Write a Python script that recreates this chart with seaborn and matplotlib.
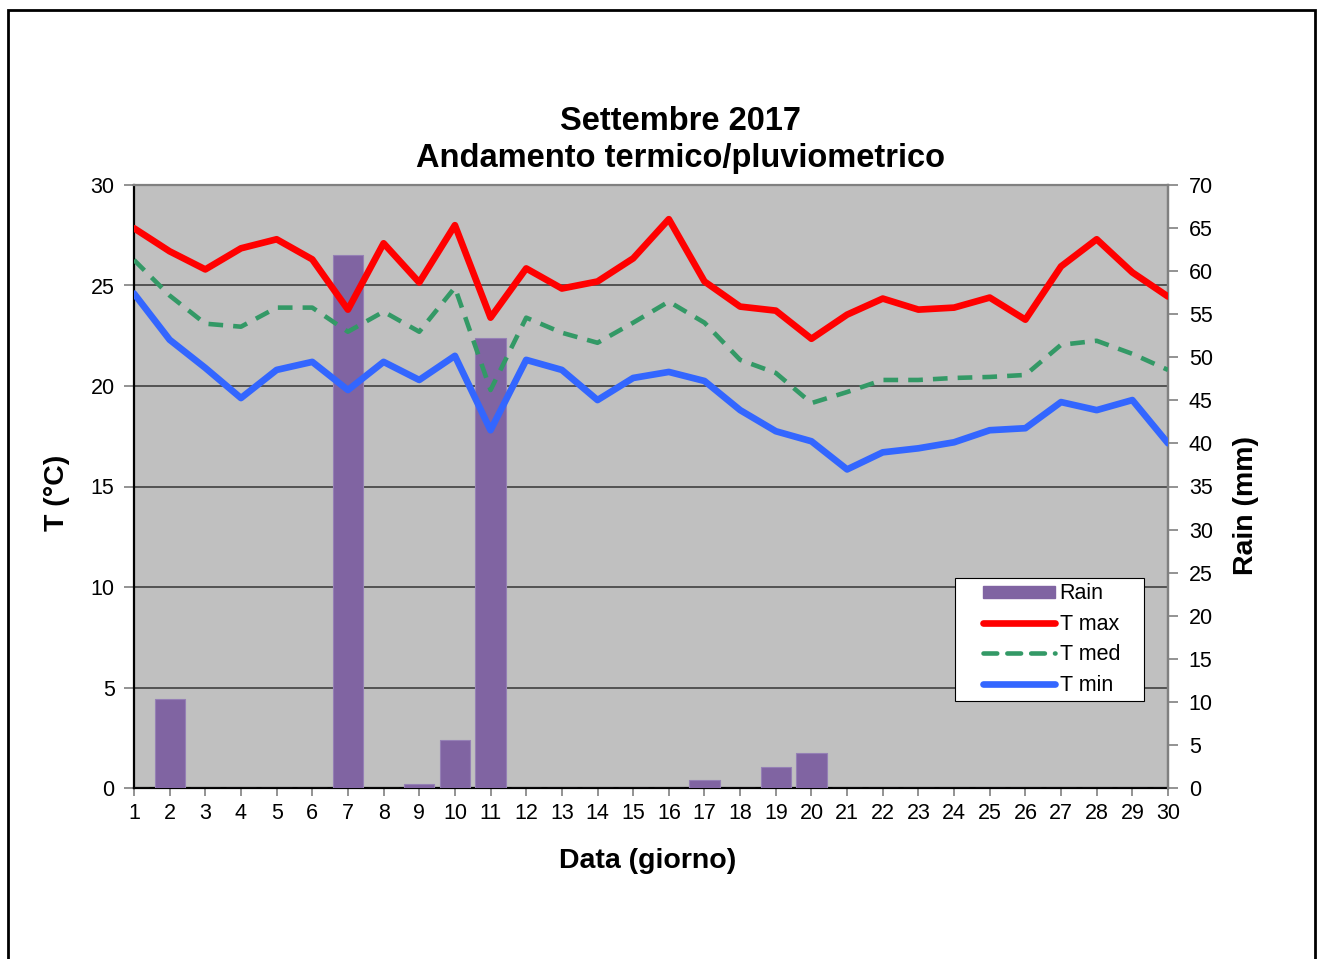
import matplotlib
matplotlib.use("Agg")
import matplotlib.pyplot as plt
import seaborn as sns
from matplotlib.patches import Rectangle, Patch
from matplotlib.lines import Line2D
from matplotlib.legend_handler import HandlerLine2D, HandlerPatch

# ---- data ----
days = list(range(1, 31))
t_max = [27.85, 26.7, 25.8, 26.85, 27.3, 26.3, 23.8, 27.1, 25.15, 28.0,
         23.4, 25.85, 24.85, 25.2, 26.35, 28.3, 25.2, 23.95, 23.75, 22.35,
         23.55, 24.35, 23.8, 23.9, 24.4, 23.3, 25.95, 27.3, 25.65, 24.45]
t_med = [26.27, 24.5, 23.1, 22.95, 23.9, 23.9, 22.7, 23.7, 22.7, 24.9,
         19.8, 23.4, 22.65, 22.15, 23.15, 24.2, 23.15, 21.3, 20.65, 19.15,
         19.7, 20.3, 20.3, 20.4, 20.45, 20.55, 22.05, 22.25, 21.6, 20.8]
t_min = [24.6, 22.3, 20.9, 19.4, 20.8, 21.2, 19.8, 21.2, 20.3, 21.5,
         17.8, 21.3, 20.8, 19.3, 20.4, 20.7, 20.25, 18.8, 17.75, 17.25,
         15.85, 16.7, 16.9, 17.2, 17.8, 17.9, 19.2, 18.8, 19.3, 17.15]
rain = [0, 10.3, 0, 0, 0, 0, 61.9, 0, 0.45, 5.55,
        52.2, 0, 0, 0, 0, 0, 0.95, 0, 2.45, 4.05,
        0, 0, 0, 0, 0, 0, 0, 0, 0, 0]
temp_ticks = [0, 5, 10, 15, 20, 25, 30]
rain_ticks = list(range(0, 75, 5))
series_labels = ["Rain", "T max", "T med", "T min"]

title_1 = "Settembre 2017"
title_2 = "Andamento termico/pluviometrico"

# ---- style ----
sns.set_style("white")
plt.rcParams['font.family'] = ['Liberation Sans', 'DejaVu Sans']
plt.rcParams.update({"text.color": "black", "axes.labelcolor": "black",
                     "xtick.labelcolor": "black", "ytick.labelcolor": "black"})

C_RAIN = "#8064A2"
C_MAX = "#FF0000"
C_MED = "#339966"
C_MIN = "#3366FF"
GRAY = "#808080"
TICK_FS = 15.5
LABEL_FS = 20.5

fig = plt.figure(figsize=(13.17, 9.59), dpi=100)
fig.patch.set_facecolor("white")
fig.patches.append(Rectangle((8/1317, -0.02), 1307/1317, 1 - 10/959 + 0.02,
                             transform=fig.transFigure, fill=False,
                             edgecolor="black", linewidth=2))

ax = fig.add_axes([134/1317, 1 - 788/959, 1034/1317, 603/959])
ax.set_facecolor("#C0C0C0")
ax.set_xlim(1, 30)
ax.set_ylim(0, 30)
ax.set_yticks(temp_ticks)
ax.set_xticks(days)
ax.yaxis.grid(True, color="#404040", linewidth=1.2)
ax.xaxis.grid(False)
ax.set_axisbelow(True)
ax.tick_params(axis='y', direction='out', length=7, width=1.2, color=GRAY,
               labelsize=TICK_FS, pad=7, left=True)
ax.tick_params(axis='x', direction='out', length=6, width=1.2, color=GRAY,
               labelsize=TICK_FS, pad=5, bottom=True)
for s in ["left", "bottom"]:
    ax.spines[s].set_color("black")
    ax.spines[s].set_linewidth(1.6)
for s in ["top", "right"]:
    ax.spines[s].set_color(GRAY)
    ax.spines[s].set_linewidth(1.6)
ax.set_ylabel("T (°C)", fontsize=LABEL_FS, fontweight="bold")
ax.yaxis.set_label_coords(-0.062, 0.49)
ax.set_xlabel("Data (giorno)", fontsize=LABEL_FS, fontweight="bold")
ax.xaxis.set_label_coords(0.497, -0.099)

# rain bars
ax2 = ax.twinx()
sns.barplot(x=days, y=rain, ax=ax2, native_scale=True, color=C_RAIN,
            saturation=1, width=0.85, edgecolor="#9580B5", linewidth=0.8)
ax2.set_xlim(1, 30)
ax2.set_ylim(0, 70)
ax2.set_yticks(rain_ticks)
ax2.tick_params(axis='y', direction='out', length=7, width=1.2, color=GRAY,
                labelsize=TICK_FS, pad=8, right=True)
for s in ["left", "bottom", "top"]:
    ax2.spines[s].set_visible(False)
ax2.spines["right"].set_color(GRAY)
ax2.spines["right"].set_linewidth(1.6)
ax2.set_ylabel("Rain (mm)", fontsize=LABEL_FS, fontweight="bold")
ax2.yaxis.set_label_coords(1.063, 0.468)
ax2.set_xlabel("")

# temperature lines
ax3 = ax.twinx()
sns.lineplot(x=days, y=t_max, ax=ax3, color=C_MAX, linewidth=4.8)
sns.lineplot(x=days, y=t_med, ax=ax3, color=C_MED, linewidth=3.3,
             dashes=False)
ax3.lines[-1].set_dashes([3.2, 2.2])
sns.lineplot(x=days, y=t_min, ax=ax3, color=C_MIN, linewidth=4.8)
ax3.set_xlim(1, 30)
ax3.set_ylim(0, 30)
ax3.set_yticks([])
for s in ax3.spines.values():
    s.set_visible(False)
ax3.set_xlabel("")

handles = [
    Patch(facecolor=C_RAIN, edgecolor=C_RAIN),
    Line2D([], [], color=C_MAX, linewidth=4.8, solid_capstyle="round"),
    Line2D([], [], color=C_MED, linewidth=3.3, dashes=[3.0, 2.2],
           dash_capstyle="round"),
    Line2D([], [], color=C_MIN, linewidth=4.8, solid_capstyle="round"),
]
XPAD = 1.05
leg = ax3.legend(handles, series_labels, loc="upper left", mode="expand",
                 bbox_to_anchor=(0.794, 0.148, 0.183, 0.2), fontsize=TICK_FS,
                 frameon=True, fancybox=False, framealpha=1,
                 edgecolor="black", handlelength=4.4, handleheight=0.5,
                 handletextpad=0.22, labelspacing=0.44, borderpad=0.24,
                 borderaxespad=0,
                 handler_map={Line2D: HandlerLine2D(xpad=XPAD),
                              Patch: HandlerPatch(xpad=XPAD)})
leg.get_frame().set_linewidth(0.8)

fig.text(680/1317, 1 - 121/959, title_1, ha="center", va="center",
         fontsize=23.5, fontweight="bold")
fig.text(680/1317, 1 - 159/959, title_2, ha="center", va="center",
         fontsize=23.5, fontweight="bold")

fig.savefig("out.png", dpi=100)
